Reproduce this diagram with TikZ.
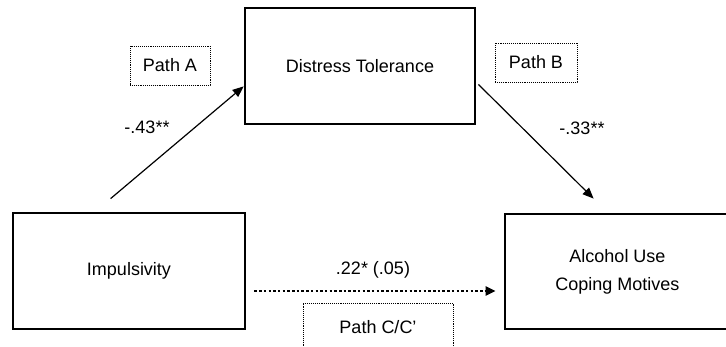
\documentclass[tikz,border=0pt]{standalone}
\usepackage{fontspec}
\setmainfont{Liberation Sans}
\usetikzlibrary{arrows.meta}

\tikzset{
  varbox/.style={draw, line width=2.8pt, inner sep=0pt, align=center,
    font=\fontsize{18}{28}\selectfont},
  pathbox/.style={draw, densely dotted, line width=0.9pt, inner sep=0pt,
    font=\fontsize{18}{21}\selectfont},
  coef/.style={font=\fontsize{18}{21}\selectfont},
  effect/.style={line width=1.2pt, -{Triangle[length=11pt,width=9pt]}},
  direct/.style={line width=2.2pt, dash pattern=on 2.5pt off 2.2pt,
    -{Triangle[length=10pt,width=9pt]}}
}

\begin{document}
\begin{tikzpicture}[x=1pt,y=1pt]
  \useasboundingbox (0,0) rectangle (726,346);

  % the three variables
  \node[varbox, minimum width=232, minimum height=116] (imp) at (129,75) {Impulsivity};
  \node[varbox, minimum width=230, minimum height=116] (dt)  at (360,280) {Distress Tolerance};
  \node[varbox, minimum width=225, minimum height=115] (alc) at (617.5,74.5) {Alcohol Use\\Coping Motives};

  % path labels
  \node[pathbox, minimum width=80,  minimum height=39] (pa) at (170,280.5) {Path A};
  \node[pathbox, minimum width=82,  minimum height=39] (pb) at (536,283.5) {Path B};
  \node[pathbox, minimum width=150, minimum height=49] (pc) at (378,18.5) {Path C/C'};

  % the paths
  \coordinate (a0) at ([shift={(99,13)}]imp.north west);
  \coordinate (a1) at ([yshift=39]dt.south west);
  \coordinate (b0) at ([shift={(2,41)}]dt.south east);
  \coordinate (b1) at ([shift={(90,14)}]alc.north west);
  \coordinate (c0) at ([shift={(8,-20)}]imp.east);
  \coordinate (c1) at ([shift={(-8,-19.5)}]alc.west);

  \draw[effect] (a0) -- (a1);
  \draw[effect] (b0) -- (b1);
  \draw[direct] (c0) -- (c1);

  % coefficients
  \node[coef] (ca) at (147,219) {-.43**};
  \node[coef] (cb) at (582,218) {-.33**};
  \node[coef] (cc) at (373,76) {.22* (.05)};
\end{tikzpicture}
\end{document}
